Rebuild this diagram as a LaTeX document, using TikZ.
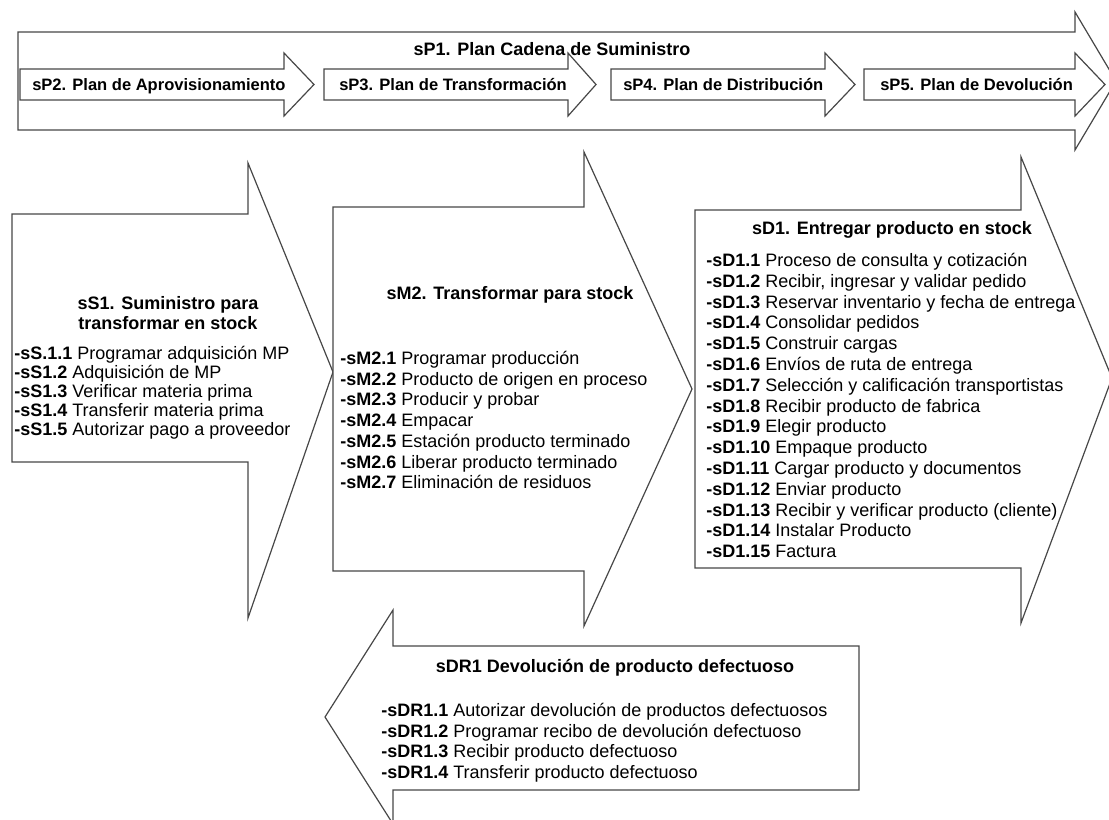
\documentclass[tikz,border=0pt]{standalone}
\usepackage{fontspec}
\setmainfont{Liberation Sans}
\begin{document}
\begin{tikzpicture}[x=0.75pt,y=-0.75pt,
  blockarrow/.style={draw=black!72, line width=0.9pt, fill=white, line join=miter},
  ttl/.style={font=\bfseries\fontsize{13.5}{16}\selectfont, inner sep=0, anchor=base},
  plan/.style={font=\bfseries\fontsize{12.4}{15}\selectfont, inner sep=0, anchor=base west},
  item/.style={font=\fontsize{13.5}{16}\selectfont, inner sep=0, anchor=base west}]
\clip (0,0) rectangle (1109,820);
\fill[white] (0,0) rectangle (1109,820);

% planning level: large arrow with the four sub-plans inside
\draw[blockarrow] (18,32) -- (1075,32) -- (1075,12) -- (1116,81) -- (1075,150) -- (1075,130) -- (18,130) -- cycle;
\node[ttl] (sp1) at (552,55.5) {sP1. Plan Cadena de Suministro};

\draw[blockarrow] (20,69) -- (284,69) -- (284,53) -- (314,84.5) -- (284,116) -- (284,100) -- (20,100) -- cycle;
\node[plan] (sp2) at (32,91) {sP2. Plan de Aprovisionamiento};
\draw[blockarrow] (324,69) -- (568,69) -- (568,53) -- (596,84.5) -- (568,116) -- (568,100) -- (324,100) -- cycle;
\node[plan] (sp3) at (339,91) {sP3. Plan de Transformación};
\draw[blockarrow] (611,69) -- (825,69) -- (825,53) -- (855,84.5) -- (825,116) -- (825,100) -- (611,100) -- cycle;
\node[plan] (sp4) at (623,91) {sP4. Plan de Distribución};
\draw[blockarrow] (864,69) -- (1075,69) -- (1075,53) -- (1105,84.5) -- (1075,116) -- (1075,100) -- (864,100) -- cycle;
\node[plan] (sp5) at (880,91) {sP5. Plan de Devolución};

% source
\draw[blockarrow] (12,214) -- (248,214) -- (248,163) -- (333,372) -- (248,618) -- (248,462) -- (12,462) -- cycle;
\node[ttl] (ss1a) at (168,309.5) {sS1. Suministro para};
\node[ttl] (ss1b) at (168,329.5) {transformar en stock};
\foreach \k/\t [count=\i from 0] in {
  -sS.1.1/{Programar adquisición MP},
  -sS1.2/{Adquisición de MP},
  -sS1.3/{Verificar materia prima},
  -sS1.4/{Transferir materia prima},
  -sS1.5/{Autorizar pago a proveedor}}
  \node[item] (ss1-\i) at (14,359.5+19*\i) {\textbf{\k} \t};

% make
\draw[blockarrow] (333,207) -- (584,207) -- (584,152) -- (692,389) -- (584,626) -- (584,571) -- (333,571) -- cycle;
\node[ttl] (sm2) at (510,299.5) {sM2. Transformar para stock};
\foreach \k/\t [count=\i from 0] in {
  -sM2.1/{Programar producción},
  -sM2.2/{Producto de origen en proceso},
  -sM2.3/{Producir y probar},
  -sM2.4/{Empacar},
  -sM2.5/{Estación producto terminado},
  -sM2.6/{Liberar producto terminado},
  -sM2.7/{Eliminación de residuos}}
  \node[item] (sm2-\i) at (340,364.5+20.7*\i) {\textbf{\k} \t};

% deliver
\draw[blockarrow] (695,210) -- (1021,210) -- (1021,157) -- (1112,378) -- (1021,623) -- (1021,568) -- (695,568) -- cycle;
\node[ttl] (sd1) at (892,234.5) {sD1. Entregar producto en stock};
\foreach \k/\t [count=\i from 0] in {
  -sD1.1/{Proceso de consulta y cotización},
  -sD1.2/{Recibir, ingresar y validar pedido},
  -sD1.3/{Reservar inventario y fecha de entrega},
  -sD1.4/{Consolidar pedidos},
  -sD1.5/{Construir cargas},
  -sD1.6/{Envíos de ruta de entrega},
  -sD1.7/{Selección y calificación transportistas},
  -sD1.8/{Recibir producto de fabrica},
  -sD1.9/{Elegir producto},
  -sD1.10/{Empaque producto},
  -sD1.11/{Cargar producto y documentos},
  -sD1.12/{Enviar producto},
  -sD1.13/{Recibir y verificar producto (cliente)},
  -sD1.14/{Instalar Producto},
  -sD1.15/{Factura}}
  \node[item] (sd1-\i) at (706,266.5+20.8*\i) {\textbf{\k} \t};

% return
\draw[blockarrow] (393,610) -- (393,646) -- (859,646) -- (859,790) -- (393,790) -- (393,824) -- (325,717) -- cycle;
\node[ttl] (sdr1) at (615,672.5) {sDR1 Devolución de producto defectuoso};
\foreach \k/\t [count=\i from 0] in {
  -sDR1.1/{Autorizar devolución de productos defectuosos},
  -sDR1.2/{Programar recibo de devolución defectuoso},
  -sDR1.3/{Recibir producto defectuoso},
  -sDR1.4/{Transferir producto defectuoso}}
  \node[item] (sdr1-\i) at (381,716.5+20.7*\i) {\textbf{\k} \t};
\end{tikzpicture}
\end{document}
